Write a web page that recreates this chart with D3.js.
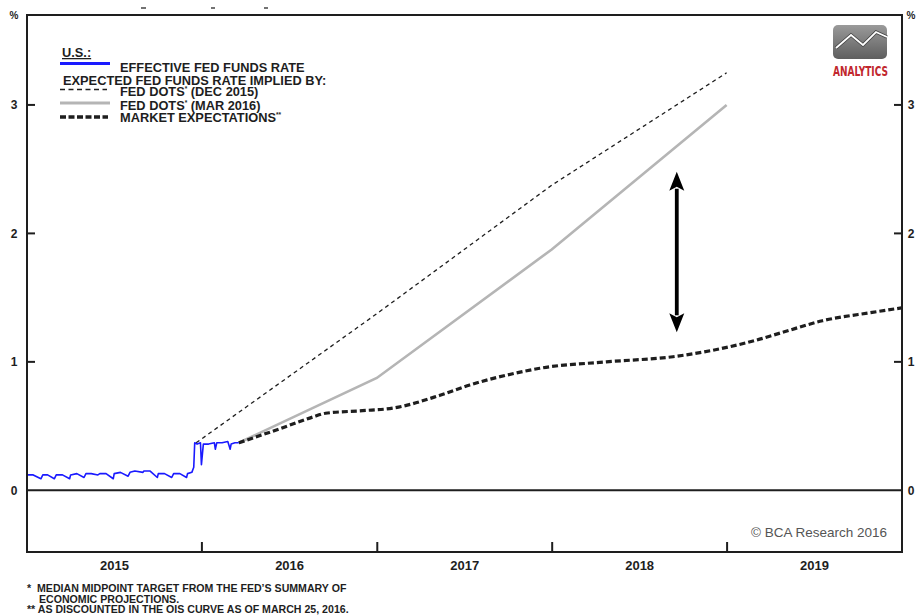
<!DOCTYPE html>
<html>
<head>
<meta charset="utf-8">
<script src="https://cdn.jsdelivr.net/npm/d3@7"></script>
<style>
  body { margin: 0; background: #fff; }
  svg { display: block; font-family: "Liberation Sans", Arial, sans-serif; }
</style>
</head>
<body>
<div id="chart"></div>
<script>
// effective fed funds rate
const effFundsRate = [
  ['2015-01-02', 0.12], ['2015-01-14', 0.12], ['2015-01-30', 0.09], ['2015-02-03', 0.12],
  ['2015-02-13', 0.12], ['2015-02-27', 0.09], ['2015-03-03', 0.12], ['2015-03-16', 0.12],
  ['2015-03-31', 0.09], ['2015-04-02', 0.12], ['2015-04-15', 0.13], ['2015-04-30', 0.10],
  ['2015-05-04', 0.13], ['2015-05-15', 0.13], ['2015-05-29', 0.12], ['2015-06-02', 0.13],
  ['2015-06-15', 0.13], ['2015-06-30', 0.09], ['2015-07-02', 0.13], ['2015-07-15', 0.14],
  ['2015-07-31', 0.11], ['2015-08-04', 0.14], ['2015-08-14', 0.15], ['2015-08-31', 0.14],
  ['2015-09-02', 0.15], ['2015-09-15', 0.15], ['2015-09-30', 0.10], ['2015-10-02', 0.13],
  ['2015-10-15', 0.13], ['2015-10-30', 0.10], ['2015-11-03', 0.13], ['2015-11-16', 0.13],
  ['2015-11-30', 0.10], ['2015-12-02', 0.13], ['2015-12-11', 0.14], ['2015-12-15', 0.18],
  ['2015-12-17', 0.37], ['2015-12-22', 0.36], ['2015-12-29', 0.37], ['2015-12-31', 0.20],
  ['2016-01-04', 0.36], ['2016-01-15', 0.36], ['2016-01-27', 0.37], ['2016-01-29', 0.32],
  ['2016-02-01', 0.37], ['2016-02-12', 0.37], ['2016-02-24', 0.38], ['2016-02-29', 0.32],
  ['2016-03-02', 0.36], ['2016-03-10', 0.37], ['2016-03-18', 0.37]
];

const fedDotsDec2015 = [
  ['2015-12-20', 0.37], ['2016-12-31', 1.375], ['2017-12-31', 2.375], ['2018-12-31', 3.25]
];

const fedDotsMar2016 = [
  ['2016-03-18', 0.37], ['2016-12-31', 0.875], ['2017-12-31', 1.875], ['2018-12-31', 3.0]
];

const marketExpectations = [
  ['2016-03-18', 0.37], ['2016-06-12', 0.48], ['2016-08-19', 0.57], ['2016-09-15', 0.60],
  ['2016-12-01', 0.62], ['2017-02-03', 0.64], ['2017-05-12', 0.74], ['2017-07-13', 0.82],
  ['2017-10-26', 0.92], ['2017-12-06', 0.95], ['2018-04-24', 1.00], ['2018-09-10', 1.04],
  ['2018-12-02', 1.09], ['2019-03-04', 1.17], ['2019-04-27', 1.23], ['2019-07-19', 1.32],
  ['2019-10-31', 1.385], ['2019-12-31', 1.42]
];

const years = ['2015', '2016', '2017', '2018', '2019'];
const yTicks = [0, 1, 2, 3];
const gapArrow = ['2018-09-18', 2.48, 1.23]; // date, top, bottom

const width = 917, height = 616;
const padL = 27, padR = 902, padT = 15, padB = 552;
const parse = d3.timeParse('%Y-%m-%d');

const x = d3.scaleTime()
    .domain([parse('2015-01-01'), parse('2020-01-01')])
    .range([padL, padR]);
const y = d3.scaleLinear()
    .domain([-0.48, 3.70])
    .range([padB, padT]);

const line = d3.line()
    .x(d => x(parse(d[0])))
    .y(d => y(d[1]));

const svg = d3.select('#chart').append('svg')
    .attr('width', width)
    .attr('height', height);

const ink = '#1e1e1e';

// zero line
svg.append('line')
    .attr('x1', padL).attr('x2', padR)
    .attr('y1', y(0)).attr('y2', y(0))
    .attr('stroke', ink).attr('stroke-width', 2);

// fed dots dec 2015
svg.append('path')
    .attr('d', line(fedDotsDec2015))
    .attr('fill', 'none').attr('stroke', ink)
    .attr('stroke-width', 1.3).attr('stroke-dasharray', '4,3.5');

// fed dots mar 2016
svg.append('path')
    .attr('d', line(fedDotsMar2016))
    .attr('fill', 'none').attr('stroke', '#b5b5b5')
    .attr('stroke-width', 2.6);

// market expectations
svg.append('path')
    .attr('d', line.curve(d3.curveMonotoneX)(marketExpectations))
    .attr('fill', 'none').attr('stroke', ink)
    .attr('stroke-width', 3.2).attr('stroke-dasharray', '6,3');
line.curve(d3.curveLinear);

// effective fed funds rate
svg.append('path')
    .attr('d', line(effFundsRate))
    .attr('fill', 'none').attr('stroke', '#1a1aff')
    .attr('stroke-width', 1.6).attr('stroke-linejoin', 'round');

// double arrow
const ax = x(parse(gapArrow[0])), ay1 = y(gapArrow[1]), ay2 = y(gapArrow[2]);
const headW = 7.5, headL = 19;
svg.append('line')
    .attr('x1', ax).attr('x2', ax)
    .attr('y1', ay1 + headL - 2).attr('y2', ay2 - headL + 2)
    .attr('stroke', '#000').attr('stroke-width', 3.8);
svg.append('path')
    .attr('d', `M${ax},${ay1} L${ax + headW},${ay1 + headL} L${ax},${ay1 + headL - 4} L${ax - headW},${ay1 + headL} Z`)
    .attr('fill', '#000');
svg.append('path')
    .attr('d', `M${ax},${ay2} L${ax + headW},${ay2 - headL} L${ax},${ay2 - headL + 4} L${ax - headW},${ay2 - headL} Z`)
    .attr('fill', '#000');

// frame
svg.append('rect')
    .attr('x', padL).attr('y', padT)
    .attr('width', padR - padL).attr('height', padB - padT)
    .attr('fill', 'none').attr('stroke', ink).attr('stroke-width', 2);

// y ticks both sides
const tickG = svg.append('g').attr('stroke', ink).attr('stroke-width', 2);
yTicks.filter(d => d !== 0).forEach(d => {
  tickG.append('line').attr('x1', padL).attr('x2', padL + 8).attr('y1', y(d)).attr('y2', y(d));
  tickG.append('line').attr('x1', padR - 8).attr('x2', padR).attr('y1', y(d)).attr('y2', y(d));
});

// year boundary ticks
years.slice(1).forEach(yr => {
  const xx = x(parse(yr + '-01-01'));
  tickG.append('line').attr('x1', xx).attr('x2', xx).attr('y1', padB).attr('y2', padB - 10);
});

const labels = svg.append('g')
    .attr('font-size', 12).attr('font-weight', 'bold').attr('fill', ink);

yTicks.forEach(d => {
  labels.append('text').attr('x', 14).attr('y', y(d) + 4.5).attr('text-anchor', 'middle').text(d);
  labels.append('text').attr('x', 911).attr('y', y(d) + 4.5).attr('text-anchor', 'middle').text(d);
});
labels.append('text').attr('x', 14).attr('y', 19).attr('text-anchor', 'middle').attr('font-size', 10).text('%');
labels.append('text').attr('x', 911).attr('y', 19).attr('text-anchor', 'middle').attr('font-size', 10).text('%');

years.forEach(yr => {
  const a = x(parse(yr + '-01-01')), b = x(parse((+yr + 1) + '-01-01'));
  labels.append('text').attr('x', (a + b) / 2).attr('y', 570)
      .attr('font-size', 13).attr('text-anchor', 'middle').text(yr);
});

// legend
const lg = svg.append('g').attr('font-size', 12.8).attr('font-weight', 'bold').attr('fill', ink);
lg.append('text').attr('x', 62).attr('y', 57).attr('text-decoration', 'underline').text('U.S.:');
lg.append('line').attr('x1', 60).attr('x2', 110).attr('y1', 63.5).attr('y2', 63.5)
    .attr('stroke', '#1a1aff').attr('stroke-width', 3);
lg.append('text').attr('x', 120).attr('y', 71.5).text('EFFECTIVE FED FUNDS RATE');
lg.append('text').attr('x', 63).attr('y', 84.5).text('EXPECTED FED FUNDS RATE IMPLIED BY:');
lg.append('line').attr('x1', 60).attr('x2', 107).attr('y1', 89.5).attr('y2', 89.5)
    .attr('stroke', ink).attr('stroke-width', 1.5).attr('stroke-dasharray', '5,3.5');
const t1 = lg.append('text').attr('x', 120).attr('y', 95.5).text('FED DOTS');
t1.append('tspan').attr('font-size', 6.5).attr('dy', -5).text('*');
t1.append('tspan').attr('dy', 5).text(' (DEC 2015)');
lg.append('line').attr('x1', 60).attr('x2', 110).attr('y1', 103).attr('y2', 103)
    .attr('stroke', '#b5b5b5').attr('stroke-width', 3);
const t2 = lg.append('text').attr('x', 120).attr('y', 110).text('FED DOTS');
t2.append('tspan').attr('font-size', 6.5).attr('dy', -5).text('*');
t2.append('tspan').attr('dy', 5).text(' (MAR 2016)');
lg.append('line').attr('x1', 60).attr('x2', 108).attr('y1', 117).attr('y2', 117)
    .attr('stroke', ink).attr('stroke-width', 3.5).attr('stroke-dasharray', '6,2.5');
const t3 = lg.append('text').attr('x', 120).attr('y', 122).text('MARKET EXPECTATIONS');
t3.append('tspan').attr('font-size', 6.5).attr('dy', -5).text('**');

// logo
const defs = svg.append('defs');
const grad = defs.append('linearGradient').attr('id', 'logoGrad')
    .attr('x1', 0).attr('y1', 0).attr('x2', 0).attr('y2', 1);
grad.append('stop').attr('offset', '0%').attr('stop-color', '#9a9a9a');
grad.append('stop').attr('offset', '100%').attr('stop-color', '#5e5e5e');
svg.append('rect').attr('x', 833).attr('y', 25).attr('width', 54).attr('height', 34)
    .attr('rx', 5).attr('fill', 'url(#logoGrad)');
svg.append('path').attr('d', 'M836,48 L851,35 L863,45 L876,32 L887,37')
    .attr('fill', 'none').attr('stroke', '#444').attr('stroke-width', 3.5);
svg.append('path').attr('d', 'M836,48 L851,35 L863,45 L876,32 L887,37')
    .attr('fill', 'none').attr('stroke', '#fff').attr('stroke-width', 1.8);
svg.append('text').attr('x', 833).attr('y', 75.5)
    .attr('font-family', '"Liberation Sans Narrow", "DejaVu Sans Condensed", sans-serif')
    .attr('font-size', 13.5).attr('font-weight', 'bold').attr('fill', '#c1272d')
    .attr('textLength', 55).attr('lengthAdjust', 'spacingAndGlyphs')
    .text('ANALYTICS');

// copyright
svg.append('text').attr('x', 887).attr('y', 537).attr('text-anchor', 'end')
    .attr('font-size', 13.5).attr('fill', '#555').text('© BCA Research 2016');

// footnotes
const fn = svg.append('g').attr('font-size', 10.6).attr('font-weight', 'bold').attr('fill', ink);
fn.append('text').attr('x', 27).attr('y', 592).text('*');
fn.append('text').attr('x', 37).attr('y', 592).text('MEDIAN MIDPOINT TARGET FROM THE FED\u2019S SUMMARY OF');
fn.append('text').attr('x', 39).attr('y', 602.5).text('ECONOMIC PROJECTIONS.');
fn.append('text').attr('x', 27).attr('y', 613).text('** AS DISCOUNTED IN THE OIS CURVE AS OF MARCH 25, 2016.');

// descenders of a cropped title line
const cut = svg.append('g').attr('stroke', '#444').attr('stroke-width', 1.5);
[[141, 146], [211, 215], [264, 268]].forEach(p => {
  cut.append('line').attr('x1', p[0]).attr('x2', p[1]).attr('y1', 8).attr('y2', 8);
});
</script>
</body>
</html>
